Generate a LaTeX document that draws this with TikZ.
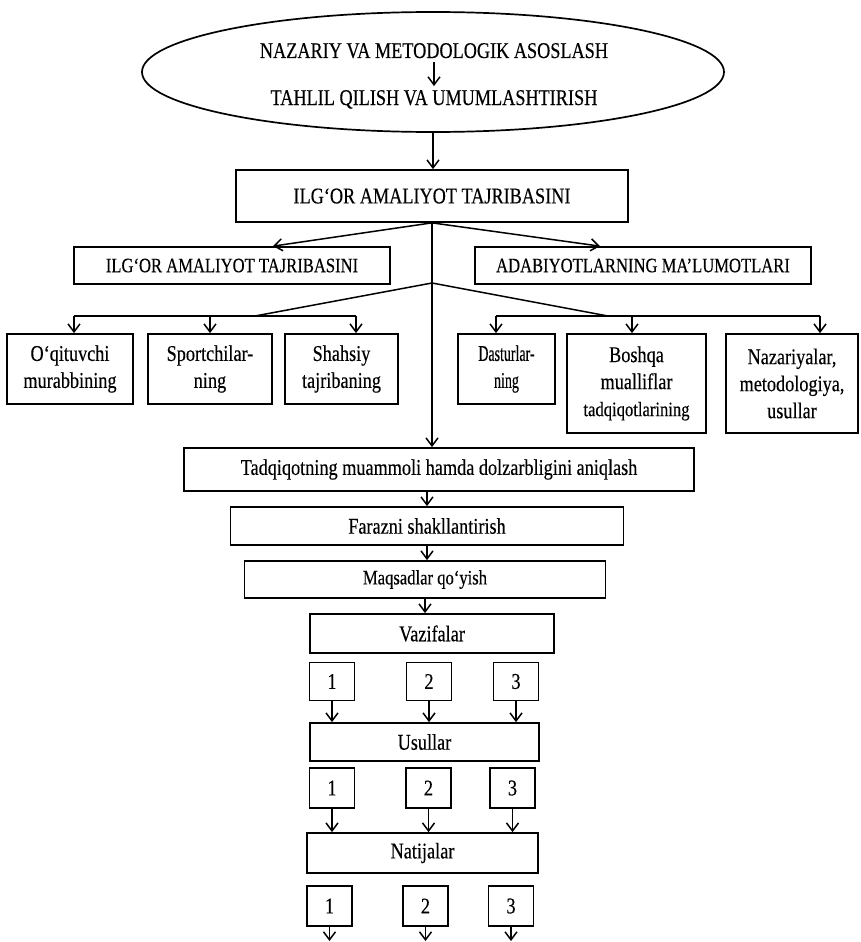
\documentclass[tikz,border=0pt]{standalone}
\usepackage{fontspec}
\setmainfont{Liberation Serif}[FakeStretch=0.81,FakeBold=0.3]
\newfontfamily\narrowfont{Liberation Serif}[FakeStretch=0.62,FakeBold=0.3]
\usetikzlibrary{arrows.meta,shapes.geometric,calc}

\newcommand\bigtxt{\fontsize{22.5}{27}\selectfont}
\newcommand\smalltxt{\fontsize{20.5}{27}\selectfont}

\begin{document}
\begin{tikzpicture}[x=1pt, y=-1pt, font=\bigtxt, line width=1.5pt,
  box/.style={draw, line width=1.7pt, inner sep=2pt, align=center},
  numbox/.style={box, minimum width=45pt, minimum height=38pt},
  arr/.style={-{Straight Barb[length=8pt,width=12pt]}}]
  \useasboundingbox (0,0) rectangle (860,942);

  % top ellipse
  \node[draw, ellipse, line width=1.7pt, minimum width=582pt, minimum height=120pt] (asos) at (433,72) {};
  \node[anchor=base] (metod) at (434,58) {NAZARIY VA METODOLOGIK ASOSLASH};
  \node[anchor=base] (tahlil) at (434,105) {TAHLIL QILISH VA UMUMLASHTIRISH};
  \draw[arr] (metod) -- (tahlil);

  \node[box, minimum width=392pt, minimum height=52pt] (tajriba) at (432,196) {ILG‘OR AMALIYOT TAJRIBASINI};
  \draw[arr] (asos.south) -- (asos.south |- tajriba.north);

  % second level
  \node[box, font=\smalltxt, minimum width=316pt, minimum height=37pt] (amal) at (232,265.5) {ILG‘OR AMALIYOT TAJRIBASINI};
  \node[box, font=\smalltxt, minimum width=336pt, minimum height=37pt] (adab) at (643,265.5) {ADABIYOTLARNING MA’LUMOTLARI};
  \draw[arr] (tajriba.south) -- ([xshift=41pt]amal.north);
  \draw[arr] (tajriba.south) -- ([xshift=-43pt]adab.north);

  % sources
  \node[box, minimum width=126pt, minimum height=70pt] (oqit) at (70,369) {O‘qituvchi\\murabbining};
  \node[box, minimum width=124pt, minimum height=70pt] (sport) at (210,369) {Sportchilar-\\ning};
  \node[box, minimum width=113pt, minimum height=70pt] (shaxs) at (341.5,369) {Shahsiy\\tajribaning};
  \node[box, font=\bigtxt\narrowfont, minimum width=97pt, minimum height=70pt] (dastur) at (506.5,369) {Dasturlar-\\ning};
  \node[box, minimum width=139pt, minimum height=99pt] (boshqa) at (636.5,383.5) {Boshqa\\mualliflar\\{\smalltxt tadqiqotlarining}};
  \node[box, minimum width=132pt, minimum height=99pt] (nazariya) at (792,383.5) {Nazariyalar,\\metodologiya,\\usullar};

  \coordinate (j) at (432,283);
  \coordinate (lj) at (255,316);
  \coordinate (rj) at (608,316);
  \coordinate (lb1) at (74,316);
  \coordinate (lb2) at (210,316);
  \coordinate (lb3) at (356,316);
  \coordinate (rb1) at (496,316);
  \coordinate (rb2) at (632,316);
  \coordinate (rb3) at (820,316);
  \draw (j) -- (lj);
  \draw (j) -- (rj);
  \draw (lb1) -- (lb3);
  \draw (rb1) -- (rb3);
  \foreach \b/\n in {lb1/oqit,lb2/sport,lb3/shaxs,rb1/dastur,rb2/boshqa,rb3/nazariya}{
    \draw[arr] (\b) -- (\b |- \n.north);
  }

  % main chain
  \node[box, minimum width=510pt, minimum height=43pt] (tadqiq) at (439,469.5) {Tadqiqotning muammoli hamda dolzarbligini aniqlash};
  \node[box, minimum width=393pt, minimum height=38pt] (faraz) at (427,526) {Farazni shakllantirish};
  \node[box, font=\smalltxt, minimum width=361pt, minimum height=37pt] (maqsad) at (425,579.5) {Maqsadlar qo‘yish};
  \node[box, minimum width=244pt, minimum height=39pt] (vazifa) at (432,633.5) {Vazifalar};
  \node[box, minimum width=229pt, minimum height=38pt] (usul) at (424.5,742) {Usullar};
  \node[box, minimum width=231pt, minimum height=40pt] (natija) at (422.5,853) {Natijalar};

  \draw[arr] (tajriba.south) -- (tajriba.south |- tadqiq.north);
  \draw[arr] (faraz.north |- tadqiq.south) -- (faraz.north);
  \draw[arr] (faraz.south) -- (faraz.south |- maqsad.north);
  \draw[arr] (maqsad.south) -- (maqsad.south |- vazifa.north);

  % numbered boxes
  \foreach \i/\x in {1/332,2/429,3/516}{
    \node[numbox] (v\i) at (\x,681.5) {\i};
    \draw[arr] (v\i.south) -- (v\i.south |- usul.north);
  }
  \foreach \i/\x in {1/332,2/428.5,3/512.5}{
    \node[numbox, minimum height=40pt] (u\i) at (\x,788) {\i};
    \draw[arr] (u\i.south) -- (u\i.south |- natija.north);
  }
  \coordinate (bottom) at (0,941);
  \foreach \i/\x in {1/329.5,2/425.5,3/511}{
    \node[numbox, minimum height=40pt] (n\i) at (\x,906) {\i};
    \draw[arr] (n\i.south) -- (n\i.south |- bottom);
  }
\end{tikzpicture}
\end{document}
